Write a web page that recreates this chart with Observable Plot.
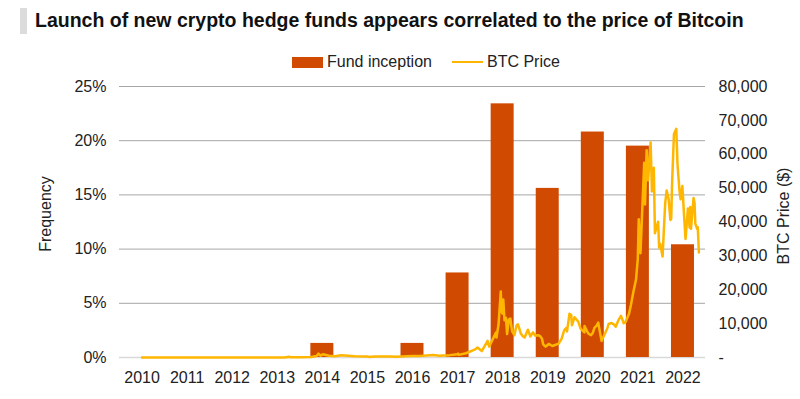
<!DOCTYPE html>
<html>
<head>
<meta charset="utf-8">
<script src="https://cdn.jsdelivr.net/npm/d3@7"></script>
<script src="https://cdn.jsdelivr.net/npm/@observablehq/plot@0.6"></script>
<style>
  html, body { margin: 0; padding: 0; background: #fff; }
  body { width: 800px; height: 399px; overflow: hidden; font-family: Arial, "Liberation Sans", sans-serif; color: #222; }
  #title { position: relative; height: 48px; }
  #title .bar { position: absolute; left: 20px; top: 8px; width: 7px; height: 26px; background: #dcdcdc; }
  #title .txt { position: absolute; left: 35px; top: 9px; font-weight: bold; font-size: 19.5px; color: #111; white-space: nowrap; }
  #legend { height: 28px; position: relative; font-size: 16px; color: #222; }
  #legend .item { position: absolute; top: 5px; display: flex; align-items: center; }
  #legend .sw-rect { width: 31px; height: 11px; background: #D04A02; margin-right: 4px; }
  #legend .sw-line { width: 31px; height: 2px; background: #FFB600; margin-right: 4px; }
  svg { display: block; }
</style>
</head>
<body>
<div id="title"><div class="bar"></div><div class="txt">Launch of new crypto hedge funds appears correlated to the price of Bitcoin</div></div>
<div id="legend">
  <div class="item" style="left:292px"><div class="sw-rect"></div><span>Fund inception</span></div>
  <div class="item" style="left:452px"><div class="sw-line"></div><span>BTC Price</span></div>
</div>
<div id="chart"></div>
<script>
// Fund inception frequency (% of funds launched per year)
const years = [2010, 2011, 2012, 2013, 2014, 2015, 2016, 2017, 2018, 2019, 2020, 2021, 2022];
const fundFreq = [0, 0, 0, 0, 1.3, 0, 1.3, 7.8, 23.4, 15.6, 20.8, 19.5, 10.4];

// BTC price ($)
const btcDates = [
  "2010-01-01","2010-07-17","2010-11-06","2011-02-10","2011-04-15","2011-06-08","2011-06-20","2011-08-01","2011-10-20",
  "2012-01-01","2012-06-01","2012-08-15","2012-12-31","2013-02-28","2013-04-09","2013-04-16","2013-07-01","2013-10-01",
  "2013-11-15","2013-11-30","2013-12-18","2014-01-05","2014-02-25","2014-04-10","2014-06-03","2014-09-20","2014-12-31",
  "2015-01-14","2015-03-01","2015-07-12","2015-08-24","2015-11-04","2015-12-31","2016-03-01","2016-06-17","2016-08-02",
  "2016-10-30","2016-12-31","2017-01-05","2017-01-11","2017-03-10","2017-05-24","2017-06-11","2017-07-16","2017-09-01",
  "2017-09-14","2017-11-08","2017-11-12","2017-11-29","2017-12-17","2017-12-22","2017-12-30",
  "2018-01-06","2018-01-16","2018-01-28","2018-02-06","2018-02-20","2018-03-04","2018-03-18","2018-04-06","2018-04-24",
  "2018-05-05","2018-05-28","2018-06-13","2018-06-28","2018-07-24","2018-08-14","2018-08-28","2018-09-04","2018-09-20",
  "2018-10-15","2018-10-31","2018-11-15","2018-11-25","2018-12-15",
  "2019-01-09","2019-02-07","2019-03-31","2019-04-23","2019-05-14","2019-05-30","2019-06-06","2019-06-26","2019-07-10",
  "2019-07-16","2019-08-06","2019-09-05","2019-09-24","2019-10-25","2019-10-26","2019-11-25","2019-12-17","2019-12-31",
  "2020-01-15","2020-01-31","2020-02-14","2020-03-12","2020-04-29","2020-05-08","2020-06-01","2020-06-22","2020-07-05",
  "2020-07-27","2020-08-17","2020-09-08","2020-09-23","2020-10-21","2020-11-06","2020-11-24","2020-12-17","2020-12-31",
  "2021-01-08","2021-01-22","2021-02-21","2021-02-28","2021-03-13","2021-03-25","2021-04-14","2021-04-25","2021-05-10",
  "2021-05-19","2021-06-14","2021-06-22","2021-07-01","2021-07-20","2021-08-10","2021-08-22","2021-09-07","2021-09-21",
  "2021-09-28","2021-10-05","2021-10-20","2021-11-08","2021-11-18","2021-12-04","2021-12-13","2021-12-27",
  "2022-01-01","2022-01-10","2022-01-22","2022-02-10","2022-02-24","2022-03-01","2022-03-07","2022-03-28","2022-04-05",
  "2022-04-11","2022-04-26","2022-05-01","2022-05-10"
];
const btcPrices = [
  0.05, 0.05, 0.4, 1.0, 1.0, 29, 17, 13, 2.3,
  5, 5.3, 13, 13.5, 33, 230, 70, 90, 125,
  420, 1130, 520, 950, 540, 370, 670, 400, 315,
  180, 260, 310, 210, 400, 430, 435, 750, 550,
  700, 960, 1130, 780, 1250, 2400, 2950, 1900, 4900,
  3200, 7400, 5900, 9900, 19500, 13800, 13000,
  17100, 11000, 11700, 6900, 11200, 11500, 7800, 6600, 9500,
  9800, 7100, 6300, 5900, 8200, 6200, 7100, 7400, 6500,
  6600, 6300, 5600, 3900, 3200,
  4000, 3400, 4100, 5500, 8000, 8700, 7700, 12900, 12600,
  9500, 11900, 10600, 8500, 7400, 9300, 7100, 6600, 7200,
  8800, 9350, 10300, 4900, 8700, 9900, 10200, 9700, 9100,
  11000, 12300, 10100, 10500, 12900, 15600, 19100, 23000, 29000,
  40800, 30800, 57500, 45200, 61200, 52300, 63500, 49000, 56000,
  36700, 40100, 32500, 33500, 29800, 45500, 49300, 46800, 40600,
  41000, 51500, 65900, 67500, 56900, 49200, 46700, 50600,
  47700, 41800, 35000, 44000, 38300, 44400, 38000, 47100, 45500,
  39500, 38000, 38500, 31000
];

const leftTicks = [0, 5, 10, 15, 20, 25];
const rightTicks = [0, 10000, 20000, 30000, 40000, 50000, 60000, 70000, 80000];

const maxPct = 25, maxPrice = 80000;
const toPct = p => p / maxPrice * maxPct;

function decYear(s) {
  const d = new Date(s + "T00:00:00Z");
  const y = d.getUTCFullYear();
  const start = Date.UTC(y, 0, 1), end = Date.UTC(y + 1, 0, 1);
  return y + (d - start) / (end - start);
}

const bars = years.map((y, i) => ({year: y, freq: fundFreq[i]})).filter(d => d.freq > 0);
const btc = btcDates.map((s, i) => ({t: decYear(s), price: btcPrices[i]}));

const halfW = 0.255;

const chart = Plot.plot({
  width: 800,
  height: 323,
  marginTop: 10,
  marginBottom: 42,
  marginLeft: 119,
  marginRight: 95,
  style: {fontFamily: "Arial, 'Liberation Sans', sans-serif", fontSize: "16px", color: "#222", background: "#fff"},
  x: {type: "linear", domain: [2009.5, 2022.5]},
  y: {domain: [0, maxPct]},
  marks: [
    Plot.ruleY(leftTicks.filter(d => d > 0), {stroke: "#a6a6a6", strokeWidth: 1}),
    Plot.ruleY([0], {stroke: "#d9d9d9", strokeWidth: 1.5}),
    Plot.rectY(bars, {x1: d => d.year - halfW, x2: d => d.year + halfW, y: "freq", fill: "#D04A02"}),
    Plot.line(btc, {x: "t", y: d => toPct(d.price), stroke: "#FFB600", strokeWidth: 2.5, curve: "linear"}),
    Plot.axisY(leftTicks, {anchor: "left", tickSize: 0, tickPadding: 13, fontSize: 16, fill: "#222", tickFormat: d => d + "%", label: null}),
    Plot.axisY(rightTicks.map(toPct), {anchor: "right", tickSize: 0, tickPadding: 13, fontSize: 16, fill: "#222", textAnchor: "start",
      tickFormat: d => { const v = Math.round(d / maxPct * maxPrice); return v === 0 ? "-" : d3.format(",")(v); }, label: null}),
    Plot.axisX(years, {tickSize: 0, tickPadding: 14, fontSize: 16, fill: "#222", tickFormat: d => String(d), label: null}),
    Plot.text(["Frequency"], {frameAnchor: "left", textAnchor: "middle", dx: -74, dy: -8, rotate: -90, fontSize: 16, fill: "#222"}),
    Plot.text(["BTC Price ($)"], {frameAnchor: "right", textAnchor: "middle", dx: 78, dy: -6, rotate: -90, fontSize: 16, fill: "#222"})
  ]
});
document.getElementById("chart").appendChild(chart);
</script>
</body>
</html>
